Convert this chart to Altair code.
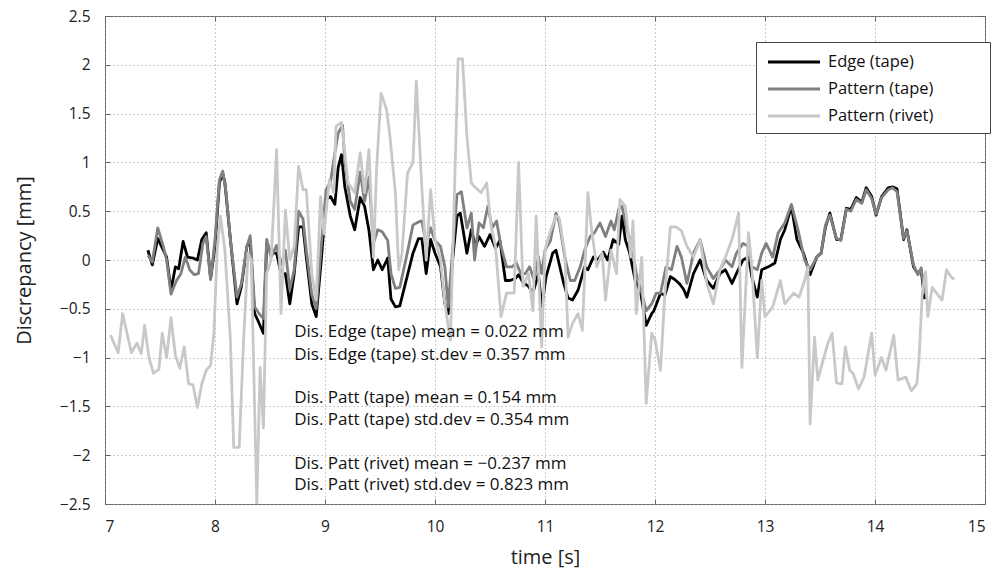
import altair as alt
import pandas as pd

FONT = "Open Sans"

series_names = ["Edge (tape)", "Pattern (tape)", "Pattern (rivet)"]
series_colors = ["#000000", "#808080", "#c8c8c8"]

edge_t = [7.39,7.43,7.48,7.53,7.56,7.60,7.64,7.67,7.71,7.75,7.80,7.84,7.88,7.92,7.96,8.00,8.04,8.07,8.09,8.14,
          8.20,8.24,8.29,8.32,8.36,8.39,8.44,8.47,8.51,8.56,8.60,8.64,8.68,8.72,8.76,8.80,8.83,8.88,8.92,8.97,
          9.01,9.05,9.09,9.12,9.15,9.18,9.23,9.27,9.32,9.36,9.40,9.44,9.48,9.52,9.57,9.60,9.64,9.68,9.74,9.80,
          9.85,9.88,9.92,9.96,10.00,10.05,10.09,10.12,10.16,10.20,10.23,10.29,10.33,10.37,10.40,10.45,10.50,10.55,10.59,10.64,
          10.68,10.73,10.76,10.80,10.85,10.89,10.94,10.97,11.01,11.07,11.10,11.17,11.21,11.25,11.30,11.36,11.39,11.44,11.48,11.53,
          11.57,11.62,11.67,11.70,11.73,11.77,11.82,11.87,11.92,11.97,11.99,12.05,12.09,12.14,12.18,12.22,12.26,12.29,12.35,12.41,
          12.47,12.53,12.59,12.64,12.70,12.74,12.80,12.85,12.88,12.93,12.97,13.03,13.09,13.14,13.18,13.24,13.29,13.35,13.41,13.47,
          13.51,13.55,13.59,13.65,13.69,13.74,13.78,13.83,13.88,13.92,13.97,14.01,14.06,14.12,14.16,14.20,14.26,14.29,14.35,14.39,
          14.42,14.45]
edge_v = [0.10,-0.05,0.22,0.10,0.03,-0.31,-0.07,-0.09,0.19,0.03,0.02,0.00,0.21,0.28,-0.19,0.14,0.79,0.89,0.79,0.21,
          -0.45,-0.27,0.14,0.20,-0.55,-0.62,-0.75,0.17,0.07,0.07,-0.14,-0.14,-0.45,-0.14,0.34,0.34,0.03,-0.45,-0.58,0.05,
          0.62,0.65,0.57,0.95,1.08,0.75,0.45,0.31,0.64,0.55,0.30,-0.10,0.00,-0.10,0.02,-0.40,-0.48,-0.47,-0.20,0.07,
          0.22,0.22,-0.14,0.21,0.07,-0.07,-0.45,-0.55,0.00,0.45,0.48,0.07,0.31,0.14,0.24,0.14,0.26,0.12,0.20,-0.21,
          -0.21,-0.19,-0.15,-0.23,-0.27,-0.34,-0.14,-0.48,-0.17,0.07,0.10,-0.24,-0.39,-0.41,-0.31,-0.07,-0.10,0.03,0.00,0.08,
          0.00,0.21,0.16,0.45,0.21,0.07,-0.21,-0.34,-0.67,-0.55,-0.52,-0.34,-0.36,-0.17,-0.20,-0.24,-0.30,-0.38,-0.14,0.00,
          -0.21,-0.29,-0.14,-0.10,-0.24,-0.14,0.00,0.03,-0.17,-0.38,-0.10,-0.07,-0.03,0.21,0.31,0.55,0.21,0.07,-0.15,0.03,
          0.07,0.34,0.48,0.21,0.21,0.53,0.52,0.64,0.59,0.74,0.65,0.46,0.65,0.74,0.75,0.73,0.21,0.31,-0.07,-0.14,
          -0.10,-0.40]

ptape_t = [7.39,7.43,7.48,7.53,7.56,7.60,7.65,7.69,7.73,7.77,7.81,7.85,7.89,7.92,7.96,8.00,8.04,8.07,8.10,8.14,
           8.20,8.24,8.29,8.32,8.36,8.40,8.44,8.47,8.51,8.56,8.60,8.64,8.68,8.72,8.76,8.80,8.83,8.88,8.92,8.97,
           9.01,9.05,9.09,9.12,9.16,9.18,9.23,9.27,9.32,9.36,9.40,9.44,9.48,9.52,9.57,9.60,9.64,9.68,9.74,9.80,
           9.85,9.88,9.92,9.96,10.00,10.05,10.09,10.12,10.16,10.20,10.24,10.29,10.33,10.36,10.40,10.44,10.48,10.52,10.56,10.60,
           10.65,10.70,10.74,10.78,10.82,10.86,10.90,10.94,10.97,11.00,11.05,11.10,11.13,11.18,11.23,11.27,11.32,11.36,11.41,11.45,
           11.50,11.55,11.60,11.63,11.67,11.70,11.74,11.79,11.83,11.88,11.92,11.97,12.01,12.05,12.10,12.15,12.20,12.24,12.29,12.35,
           12.41,12.47,12.53,12.59,12.64,12.70,12.74,12.80,12.85,12.88,12.93,12.97,13.01,13.07,13.12,13.18,13.24,13.30,13.36,13.41,
           13.47,13.51,13.55,13.59,13.65,13.69,13.74,13.78,13.83,13.88,13.92,13.97,14.01,14.06,14.12,14.16,14.20,14.26,14.29,14.35,
           14.39,14.42,14.45]
ptape_v = [0.05,-0.02,0.33,0.14,0.00,-0.35,-0.21,-0.14,0.03,-0.10,-0.15,-0.14,0.17,0.24,-0.20,0.21,0.82,0.91,0.70,0.21,
           -0.38,-0.24,0.14,0.25,-0.48,-0.55,-0.60,0.21,0.03,0.15,-0.05,0.10,-0.30,-0.10,0.50,0.42,0.10,-0.35,-0.50,0.20,
           0.72,0.80,1.10,1.30,1.38,1.00,0.60,0.52,0.90,0.60,0.85,0.17,0.31,0.29,0.20,-0.14,-0.29,-0.28,0.03,0.36,
           0.39,0.40,0.17,0.33,0.20,0.14,-0.07,-0.48,0.10,0.67,0.70,0.33,0.48,0.00,0.38,0.33,0.55,0.33,0.40,0.14,
           -0.07,-0.07,-0.03,-0.14,-0.14,-0.07,-0.20,0.03,-0.14,0.10,0.20,0.48,0.38,0.03,-0.21,-0.21,-0.07,0.10,0.24,0.28,
           0.38,0.24,0.40,0.31,0.52,0.55,0.33,0.14,-0.14,-0.34,-0.52,-0.45,-0.34,-0.34,-0.07,-0.10,0.14,0.03,-0.24,0.07,
           0.21,-0.07,-0.19,-0.10,0.00,-0.07,0.07,0.17,0.14,-0.07,-0.10,0.07,0.17,0.03,0.28,0.38,0.57,0.31,0.00,-0.10,
           0.03,0.07,0.36,0.46,0.22,0.20,0.52,0.50,0.62,0.58,0.72,0.63,0.47,0.64,0.72,0.74,0.70,0.22,0.30,-0.05,
           -0.15,-0.08,-0.35]

rivet_t = [7.05,7.12,7.16,7.24,7.29,7.33,7.36,7.40,7.44,7.49,7.52,7.56,7.60,7.64,7.68,7.72,7.76,7.80,7.84,7.88,
           7.92,7.96,7.99,8.02,8.05,8.09,8.14,8.17,8.22,8.26,8.30,8.33,8.38,8.41,8.44,8.47,8.51,8.56,8.60,8.64,
           8.68,8.72,8.76,8.80,8.83,8.88,8.92,8.96,8.99,9.04,9.08,9.10,9.15,9.21,9.27,9.32,9.36,9.40,9.44,9.47,
           9.51,9.56,9.59,9.64,9.67,9.70,9.75,9.80,9.83,9.88,9.92,9.96,10.00,10.05,10.09,10.14,10.21,10.25,10.29,10.33,
           10.36,10.42,10.47,10.51,10.55,10.60,10.65,10.72,10.76,10.80,10.85,10.89,10.92,10.97,11.00,11.05,11.10,11.13,11.18,11.21,
           11.25,11.30,11.34,11.39,11.42,11.47,11.52,11.55,11.60,11.65,11.68,11.73,11.78,11.80,11.83,11.88,11.92,11.97,12.00,12.05,
           12.09,12.14,12.19,12.24,12.29,12.35,12.41,12.47,12.53,12.59,12.64,12.70,12.76,12.79,12.85,12.88,12.93,12.97,13.00,13.07,
           13.14,13.18,13.26,13.31,13.36,13.39,13.41,13.45,13.48,13.52,13.57,13.61,13.65,13.70,13.73,13.77,13.80,13.85,13.90,13.97,
           14.00,14.06,14.10,14.17,14.21,14.28,14.33,14.38,14.40,14.43,14.46,14.48,14.52,14.56,14.61,14.65,14.69,14.72]
rivet_v = [-0.77,-0.95,-0.55,-0.95,-0.85,-0.96,-0.67,-1.00,-1.16,-1.12,-0.75,-1.00,-0.59,-0.98,-1.11,-0.89,-1.27,-1.28,-1.51,-1.27,
           -1.13,-1.08,-0.75,0.10,0.45,0.10,-0.82,-1.92,-1.92,-0.82,0.07,0.00,-2.50,-1.10,-1.72,-0.14,0.00,1.13,-0.55,0.51,
           0.00,0.14,0.96,0.72,0.72,-0.14,-0.41,0.65,0.27,0.82,0.69,1.37,1.41,0.79,0.69,1.10,0.69,1.13,0.03,0.96,
           1.71,1.54,1.27,0.69,-0.10,0.07,0.89,1.00,1.83,0.75,0.00,0.72,0.21,0.00,-0.45,-0.82,2.06,2.06,1.27,0.79,
           0.75,0.69,0.79,0.34,0.14,-0.58,-0.34,-0.34,1.00,-0.27,-0.14,-0.52,0.45,-0.89,0.10,0.30,0.45,0.43,0.07,-0.79,
           -0.65,-0.55,-0.72,0.69,0.34,-0.07,0.07,-0.41,0.10,-0.14,0.62,0.55,0.03,0.40,-0.55,0.03,-1.47,-0.75,-0.82,-1.13,
           -0.34,0.34,0.34,0.30,0.14,0.03,0.21,-0.24,-0.45,-0.10,0.03,0.21,0.48,-1.10,0.28,-0.07,-1.00,-0.21,-0.58,-0.48,
           -0.21,-0.45,-0.34,-0.38,-0.21,-0.07,-1.68,-0.79,-1.23,-1.06,-0.86,-0.75,-1.26,-1.27,-0.89,-1.13,-1.16,-1.32,-1.20,-0.75,
           -1.18,-1.00,-1.13,-0.77,-1.23,-1.20,-1.34,-1.27,-1.02,-0.34,-0.12,-0.58,-0.28,-0.34,-0.41,-0.10,-0.17,-0.20]

annotation_lines = [
    "Dis. Edge (tape) mean = 0.022 mm",
    "Dis. Edge (tape) st.dev = 0.357 mm",
    "Dis. Patt (tape) mean = 0.154 mm",
    "Dis. Patt (tape) std.dev = 0.354 mm",
    "Dis. Patt (rivet) mean = \u22120.237 mm",
    "Dis. Patt (rivet) std.dev = 0.823 mm",
]
annotation_v = [-0.74, -0.97, -1.41, -1.64, -2.09, -2.31]
annotation_t = 8.72

x_ticks = [7, 8, 9, 10, 11, 12, 13, 14, 15]
y_ticks = [-2.5, -2, -1.5, -1, -0.5, 0, 0.5, 1, 1.5, 2, 2.5]

rows = []
for name, ts, vs in zip(series_names, [edge_t, ptape_t, rivet_t], [edge_v, ptape_v, rivet_v]):
    for i, (t, v) in enumerate(zip(ts, vs)):
        rows.append({"t": t, "v": v, "series": name, "i": i})
df = pd.DataFrame(rows)
ann = pd.DataFrame({"t": [annotation_t] * len(annotation_lines), "v": annotation_v, "label": annotation_lines})

xscale = alt.Scale(domain=[7, 15], nice=False, zero=False)
yscale = alt.Scale(domain=[-2.5, 2.5], nice=False, zero=False)
cscale = alt.Scale(domain=series_names, range=series_colors)

legend = alt.Legend(
    title=None, orient="none", legendX=651, legendY=26, direction="vertical",
    symbolType="M-2.5,0H2.5", symbolSize=433, symbolStrokeWidth=3, symbolOffset=18,
    labelFontSize=16.5, labelFont=FONT, labelColor="#111", padding=8,
    strokeColor="#444", fillColor="white", labelOffset=22, rowPadding=6,
    labelLimit=400,
    labelExpr="datum.label + '" + "\u2800" * 4 + "'",
)

lines = alt.Chart(df).mark_line(strokeWidth=2.8, clip=True, strokeJoin="round").encode(
    x=alt.X("t:Q", scale=xscale, axis=alt.Axis(
        values=x_ticks, title="time [s]", orient="bottom", offset=-5, domain=False,
        tickSize=5, tickColor="#666", labelPadding=15, labelFontSize=15.5, labelFont=FONT,
        labelColor="#222", titleFontSize=20, titleFont=FONT, titleFontWeight="normal",
        titleColor="#222", titlePadding=13, grid=True, gridDash=[1, 3], gridColor="#999",
        gridOpacity=1, format="d")),
    y=alt.Y("v:Q", scale=yscale, axis=alt.Axis(
        values=y_ticks, title="Discrepancy [mm]", orient="left", offset=-5, domain=False,
        tickSize=5, tickColor="#666", labelPadding=15, labelFontSize=15.5, labelFont=FONT,
        labelColor="#222", titleFontSize=20, titleFont=FONT, titleFontWeight="normal",
        titleColor="#222", titlePadding=25, grid=True, gridDash=[1, 3], gridColor="#999",
        gridOpacity=1, format="~g")),
    color=alt.Color("series:N", scale=cscale, legend=legend),
    detail="series:N",
    order="i:Q",
)

text = alt.Chart(ann).mark_text(align="left", baseline="middle", fontSize=17, font=FONT, color="#111").encode(
    x=alt.X("t:Q", scale=xscale, axis=None),
    y=alt.Y("v:Q", scale=yscale, axis=None),
    text="label:N",
)

ticks = alt.Chart(df).mark_point(opacity=0).encode(
    x=alt.X("t:Q", scale=xscale, axis=alt.Axis(
        values=x_ticks, title=None, orient="top", offset=-5, domain=False, labels=False,
        tickSize=5, tickColor="#666", grid=False)),
    y=alt.Y("v:Q", scale=yscale, axis=alt.Axis(
        values=y_ticks, title=None, orient="right", offset=-5, domain=False, labels=False,
        tickSize=5, tickColor="#666", grid=False)),
)

chart = alt.layer(lines, text, ticks).resolve_axis(x="independent", y="independent").properties(
    width=880, height=488,
    autosize=alt.AutoSizeParams(type="none"),
    padding={"left": 105, "top": 16, "right": 22, "bottom": 70},
    background="white",
).configure_view(stroke="#666", strokeWidth=1)

chart.save("out.html", embed_options={"renderer": "svg", "actions": False})
